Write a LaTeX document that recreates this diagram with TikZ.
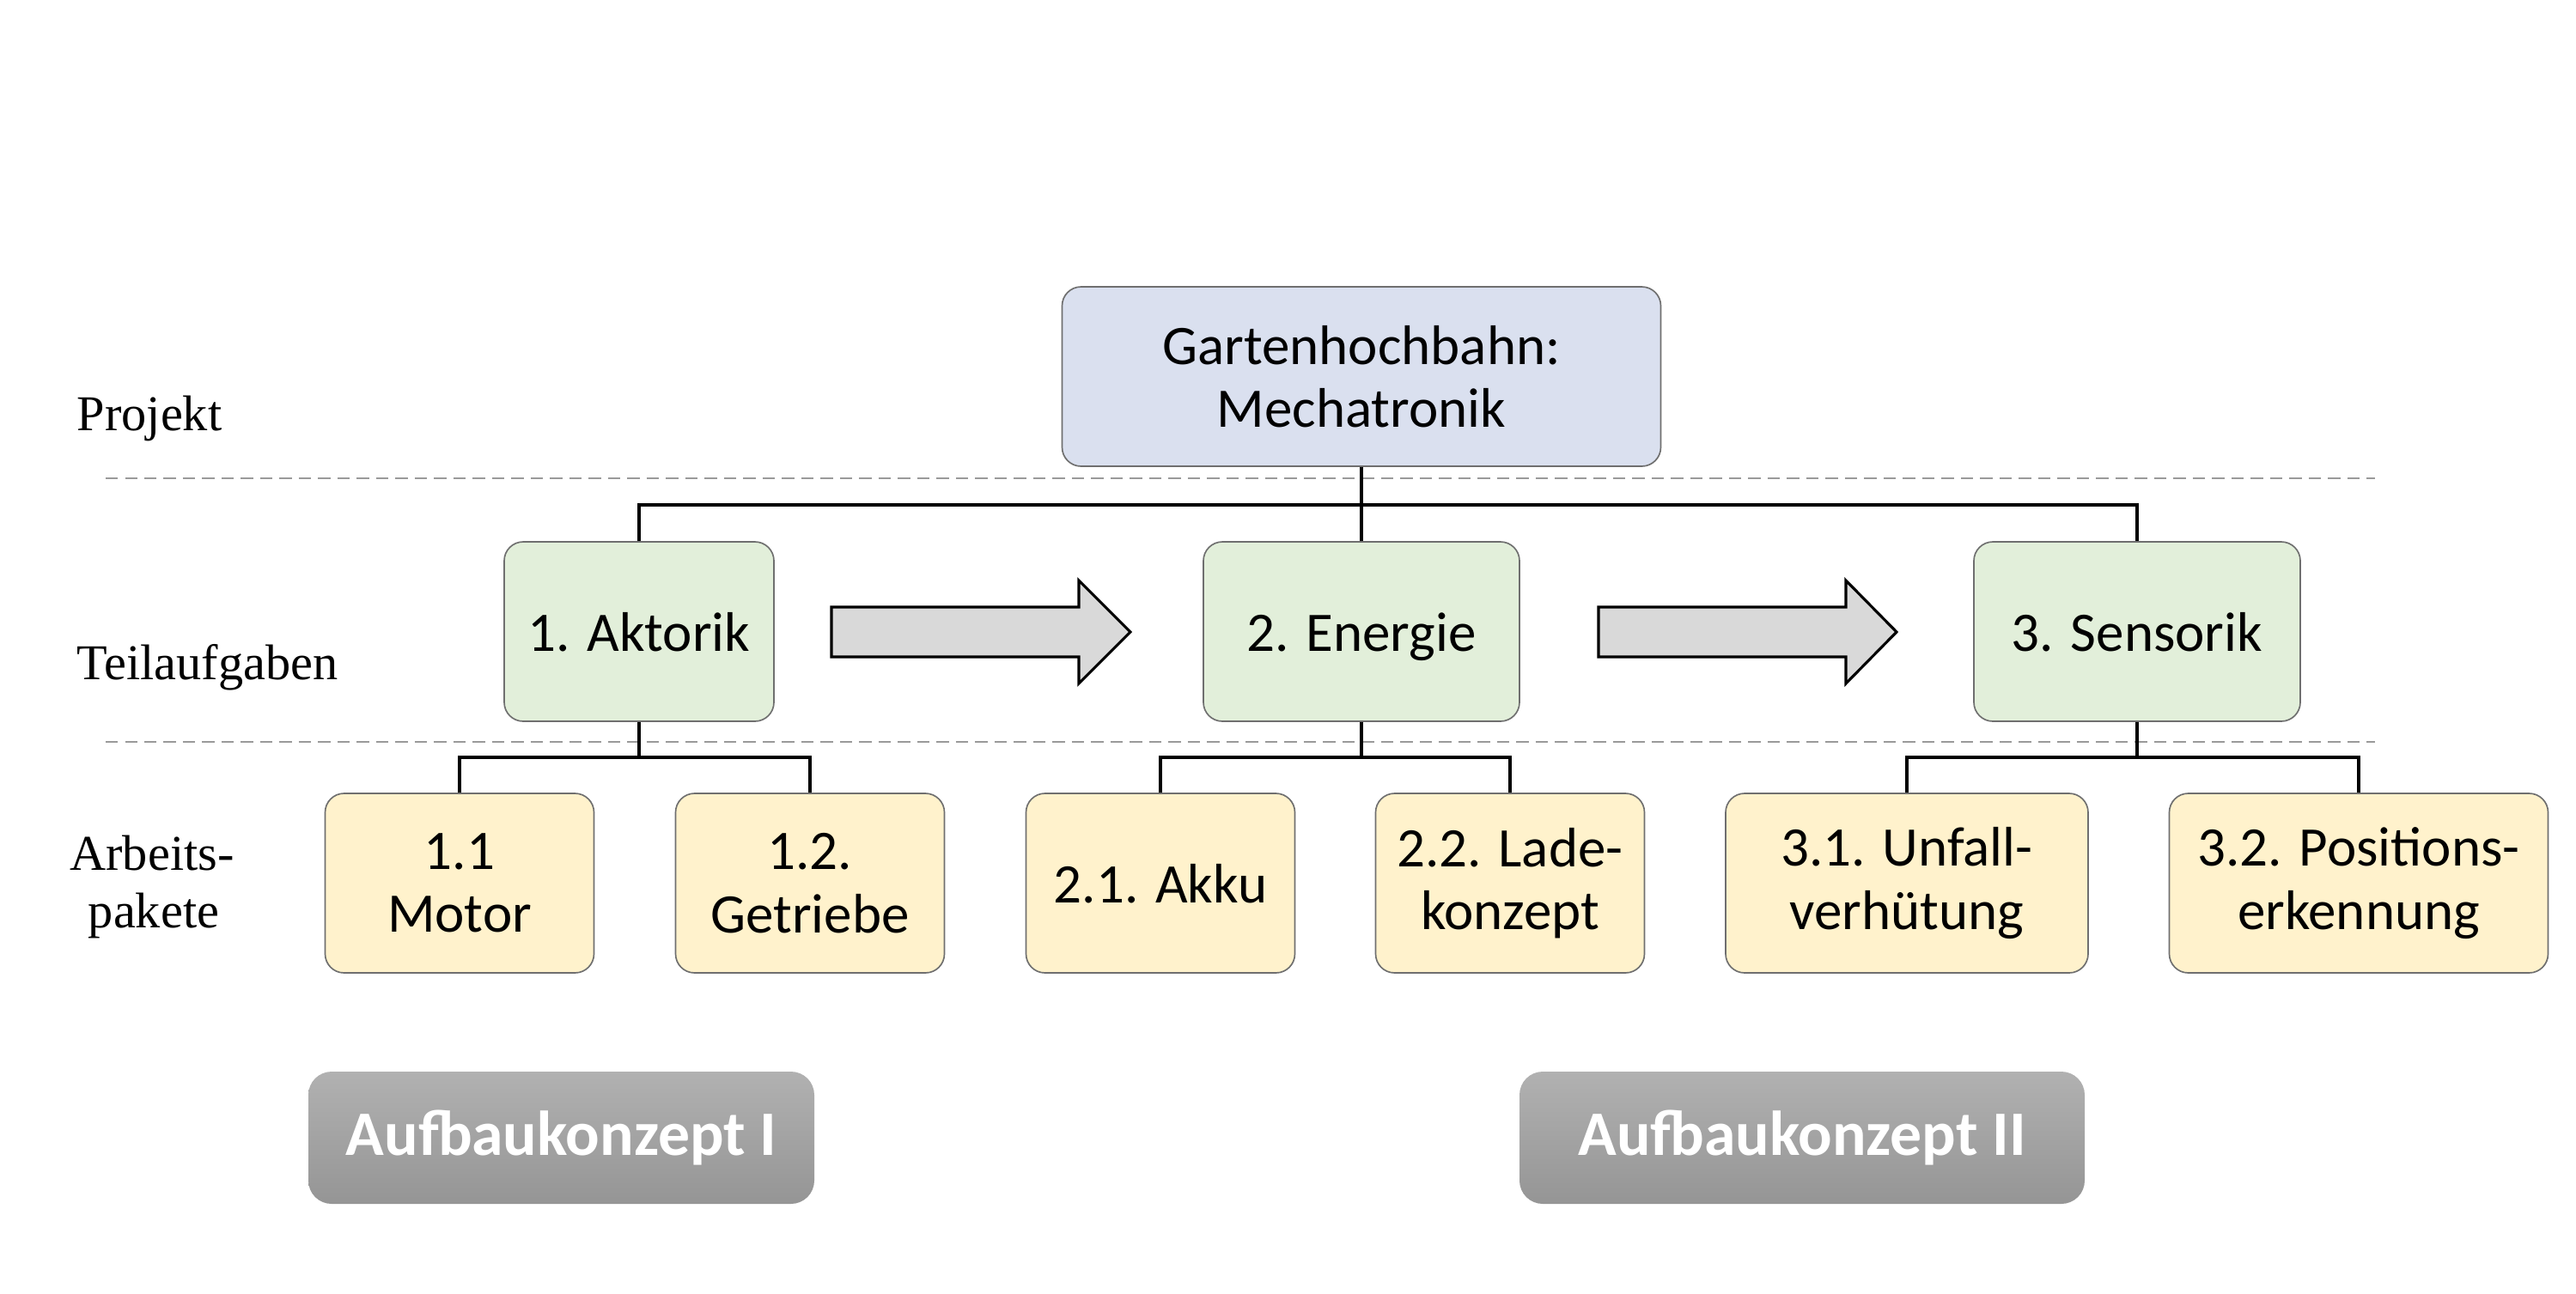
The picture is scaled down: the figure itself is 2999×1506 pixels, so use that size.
\documentclass[tikz,border=0pt]{standalone}
\usepackage{fontspec}
\setmainfont{Carlito}
\newfontfamily\labelfont{Liberation Serif}
\definecolor{topfill}{HTML}{DAE0EF}
\definecolor{greenfill}{HTML}{E2EFDA}
\definecolor{yellowfill}{HTML}{FFF2CC}
\definecolor{boxline}{HTML}{6F6F6F}
\definecolor{arrowfill}{HTML}{D9D9D9}
\definecolor{dashgray}{HTML}{9A9A9A}
\definecolor{btntop}{HTML}{B1B1B1}
\definecolor{btnbot}{HTML}{959595}
\tikzset{
  box/.style={draw=boxline, line width=0.4pt, rounded corners=5.3pt, align=center,
    minimum height={209*0.24pt}, inner sep=0pt,
    font=\fontsize{15.6pt}{17.6pt}\selectfont},
  oneline/.style={text height=10.8pt, text depth=0pt},
  topbox/.style={box, fill=topfill, minimum width={697*0.24pt}},
  taskbox/.style={box, oneline, fill=greenfill},
  pkgbox/.style={box, fill=yellowfill},
  conn/.style={draw=black, line width=0.85pt},
  sepline/.style={draw=dashgray, line width=0.5pt, dash pattern=on 3.4pt off 2pt},
  levellabel/.style={font=\labelfont\fontsize{14pt}{16pt}\selectfont, inner sep=0pt},
  bigarrow/.style={draw=black, fill=arrowfill, line width=0.75pt, line join=miter},
  conceptbtn/.style={rounded corners=6.5pt, top color=btntop, bottom color=btnbot,
    minimum height={154*0.24pt}, inner sep=0pt, text=white,
    font=\bfseries\fontsize{17.7pt}{20pt}\selectfont}
}
\begin{document}
\begin{tikzpicture}[x=0.24pt, y=-0.24pt]
\useasboundingbox (0,0) rectangle (2999,1506);

% separator lines
\coordinate (s1a) at (123,557);
\coordinate (s1b) at (2765,557);
\coordinate (s2a) at (123,864);
\coordinate (s2b) at (2765,864);
\draw[sepline] (s1a) -- (s1b);
\draw[sepline] (s2a) -- (s2b);

% level labels
\node[levellabel, anchor=base west] (lproj) at (89,501) {Projekt};
\node[levellabel, anchor=base west] (lteil) at (89,791) {Teilaufgaben};
\node[levellabel, anchor=base] (larb1) at (177,1013) {Arbeits-};
\node[levellabel, anchor=base] (larb2) at (179,1080) {pakete};

% nodes
\node[topbox] (top) at (1585,438.5) {Gartenhochbahn:\\Mechatronik};

\node[taskbox, minimum width={314*0.24pt}] (akt) at (744,735.5) {1. Aktorik};
\node[taskbox, minimum width={368*0.24pt}] (ene) at (1585,735.5) {2. Energie};
\node[taskbox, minimum width={380*0.24pt}] (sen) at (2488,735.5) {3. Sensorik};

\node[pkgbox, minimum width={313*0.24pt}] (mot) at (535,1028.5) {1.1\\Motor};
\node[pkgbox, minimum width={313*0.24pt}] (get) at (943,1028.5) {1.2.\\Getriebe};
\node[pkgbox, oneline, minimum width={313*0.24pt}] (akk) at (1351,1028.5) {2.1. Akku};
\node[pkgbox, minimum width={313*0.24pt}] (lad) at (1758,1028.5) {2.2. Lade-\\konzept};
\node[pkgbox, minimum width={422*0.24pt}] (unf) at (2220,1028.5) {3.1. Unfall-\\verhütung};
\node[pkgbox, minimum width={441*0.24pt}] (pos) at (2746,1028.5) {3.2. Positions-\\erkennung};

% connectors
\coordinate (b0) at (1585,588);
\draw[conn] (top.south) -- (b0);
\draw[conn] (akt.north) |- (b0) -| (sen.north);
\draw[conn] (ene.north) -- (b0);

\coordinate (b1) at (744,882);
\draw[conn] (akt.south) -- (b1);
\draw[conn] (mot.north) |- (b1) -| (get.north);

\coordinate (b2) at (1585,882);
\draw[conn] (ene.south) -- (b2);
\draw[conn] (akk.north) |- (b2) -| (lad.north);

\coordinate (b3) at (2488,882);
\draw[conn] (sen.south) -- (b3);
\draw[conn] (unf.north) |- (b3) -| (pos.north);

% block arrows
\draw[bigarrow] (968,707) -- (1256,707) -- (1256,676) -- (1316,736) -- (1256,796)
  -- (1256,765) -- (968,765) -- cycle;
\draw[bigarrow] (1861,707) -- (2149,707) -- (2149,676) -- (2208,736) -- (2149,796)
  -- (2149,765) -- (1861,765) -- cycle;

% concept buttons
\node[conceptbtn, minimum width={589*0.24pt}] (k1) at (653.5,1325) {Aufbaukonzept I};
\node[conceptbtn, minimum width={658*0.24pt}] (k2) at (2098,1325) {Aufbaukonzept II};
\end{tikzpicture}
\end{document}
